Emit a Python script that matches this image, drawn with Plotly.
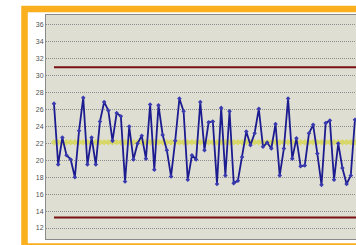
import plotly.graph_objects as go

values = [26.7, 19.5, 22.7, 20.6, 20.1, 18.0, 23.5, 27.4, 19.5, 22.7,
          19.5, 24.6, 26.9, 25.9, 22.3, 25.6, 25.2, 17.5, 24.0, 20.1,
          22.0, 22.9, 20.2, 26.6, 18.9, 26.5, 23.0, 21.2, 18.1, 22.3,
          27.3, 25.8, 17.7, 20.6, 20.1, 26.9, 21.2, 24.5, 24.6, 17.2,
          26.2, 18.2, 25.8, 17.3, 17.6, 20.4, 23.4, 21.8, 23.2, 26.1,
          21.6, 22.1, 21.4, 24.3, 18.2, 21.4, 27.3, 20.2, 22.6, 19.3,
          19.4, 23.2, 24.2, 20.8, 17.1, 24.4, 24.7, 17.7, 22.0, 19.1,
          17.2, 18.2, 24.8]
ucl_value = 31.0
mean_value = 22.13
lcl_value = 13.25
y_ticks = [12, 14, 16, 18, 20, 22, 24, 26, 28, 30, 32, 34, 36]

n = len(values)
xs = list(range(n + 3))
x_pts = list(range(n))

fig = go.Figure()
fig.add_trace(go.Scatter(x=xs, y=[ucl_value] * len(xs), mode="lines",
                         line=dict(color="#7A1010", width=2), hoverinfo="skip"))
fig.add_trace(go.Scatter(x=xs, y=[lcl_value] * len(xs), mode="lines",
                         line=dict(color="#7A1010", width=2), hoverinfo="skip"))
fig.add_trace(go.Scatter(x=xs, y=[mean_value] * len(xs), mode="lines+markers",
                         line=dict(color="#D8D86A", width=3),
                         marker=dict(color="#D8D86A", size=5, symbol="diamond"),
                         hoverinfo="skip"))
fig.add_trace(go.Scatter(x=x_pts, y=values, mode="lines+markers",
                         line=dict(color="#1C1C90", width=1.8),
                         marker=dict(color="#3A3AB0", size=3.5, symbol="diamond")))

fig.update_layout(
    width=356, height=245,
    margin=dict(l=46, r=0, t=15, b=6),
    paper_bgcolor="white",
    plot_bgcolor="#DEDED3",
    showlegend=False,
    xaxis=dict(range=[-1.91, 72.25], showgrid=False, zeroline=False,
               showticklabels=False, ticks="",
               showline=True, linecolor="#8A8A8A", linewidth=1, mirror=True),
    yaxis=dict(range=[10.7, 37.18], tickvals=y_ticks,
               ticktext=[str(v) for v in y_ticks],
               showgrid=True, gridcolor="#8C8C8C", griddash="1px,1px", gridwidth=1,
               zeroline=False, ticks="",
               showline=True, linecolor="#8A8A8A", linewidth=1,
               tickfont=dict(family="Liberation Sans, Arial", size=7, color="#505050")),
    shapes=[dict(type="rect", xref="paper", yref="paper",
                 x0=(24.5 - 46) / 310, x1=1.2,
                 y0=(239 - 246.5) / 224, y1=(239 - 9) / 224,
                 line=dict(color="#F9AF1E", width=6.5), layer="below")],
)

fig.write_html("out.html",
               config={"displayModeBar": False},
               post_script="document.body.style.margin='0';document.body.style.overflow='hidden';")
